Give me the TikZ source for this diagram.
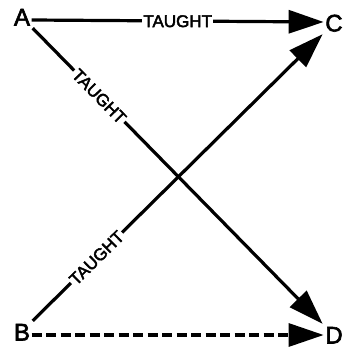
\documentclass[tikz,border=0pt]{standalone}
\usepackage{fontspec}
\setmainfont{Liberation Sans}
\newfontfamily\medfont{Liberation Sans}[FakeBold=2.5]
\usetikzlibrary{arrows.meta}
\begin{document}
\begin{tikzpicture}[x=1pt,y=-1pt,
  letter/.style={font=\medfont\fontsize{24}{24}\selectfont, inner sep=1.5pt, text height=17pt, text depth=0pt},
  conn/.style={line width=3.2pt, -{Triangle[length=35pt,width=23pt]}},
  lbl/.style={fill=white, font=\medfont\fontsize{17}{17}\selectfont, inner sep=1.5pt, text height=12.2pt, text depth=0pt}]
\useasboundingbox (0,0) rectangle (347,347);
\node[letter] (A) at (22,17) {A};
\node[letter] (C) at (334,23) {C};
\node[letter] (B) at (22,332) {B};
\node[letter] (D) at (334,335) {D};
\draw[conn] ([yshift=-3pt]A.east) -- ([yshift=1pt]C.west) node[lbl, midway] {TAUGHT};
\draw[conn] ([shift={(1pt,-1pt)}]A.south east) -- ([shift={(-1pt,1pt)}]D.north west) node[lbl, sloped, pos=0.23] {TAUGHT};
\draw[conn] ([shift={(1pt,1pt)}]B.north east) -- ([shift={(-1pt,-1pt)}]C.south west) node[lbl, sloped, pos=0.22] {TAUGHT};
\draw[conn, dash pattern=on 10pt off 4.5pt] ([yshift=-3pt]B.east) -- ([yshift=0pt]D.west);
\end{tikzpicture}
\end{document}
